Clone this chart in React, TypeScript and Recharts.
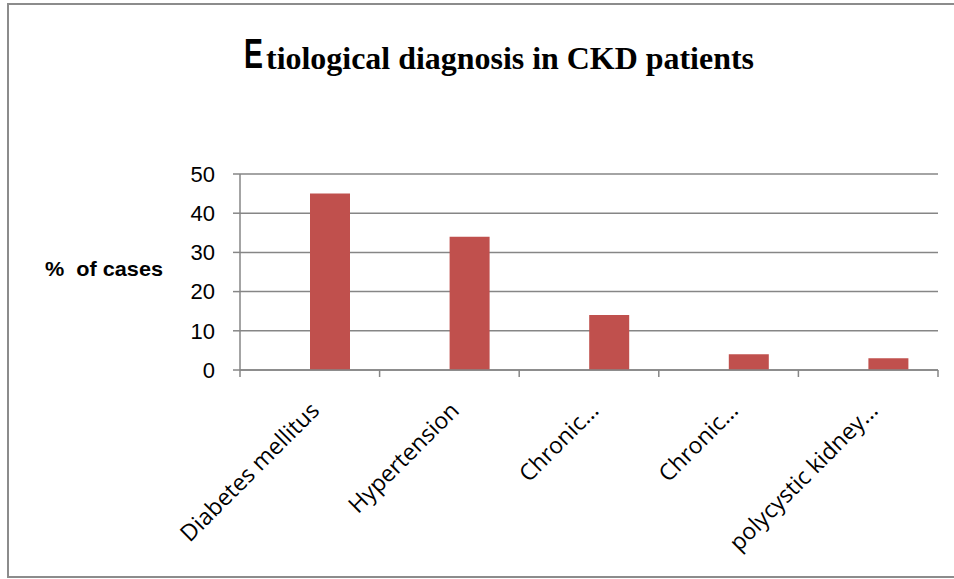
import { BarChart, Bar, XAxis, YAxis, CartesianGrid } from 'recharts';

const categories = ['Diabetes mellitus', 'Hypertension', 'Chronic...', 'Chronic...', 'polycystic kidney...'];
const casesPct = [45, 34, 14, 4, 3];
// the source sheet had an empty first series, which pushes the bars right of centre
const blankSeries = [null, null, null, null, null];
const yTicks = [0, 10, 20, 30, 40, 50];

const W = 954;
const H = 579;
const AXIS = '#868686';
const BAR = '#C0504D';
const SANS = "'Liberation Sans', Arial, sans-serif";

const data = categories.map((c, i) => ({
  category: c,
  blank: blankSeries[i],
  cases: casesPct[i],
}));

function CategoryTick(props: any) {
  const { x, y, payload, index, visibleTicksCount } = props;
  const half = payload && payload.offset ? payload.offset : 70;
  const last = index === (visibleTicksCount ?? categories.length) - 1;
  const tx = x + 11;
  const ty = y + 42;
  return (
    <g>
      <line x1={x - half} y1={y} x2={x - half} y2={y + 7} stroke={AXIS} strokeWidth={1.5} />
      {last && <line x1={x + half} y1={y} x2={x + half} y2={y + 7} stroke={AXIS} strokeWidth={1.5} />}
      <text
        x={tx}
        y={ty}
        transform={`rotate(-45, ${tx}, ${ty})`}
        textAnchor="end"
        fontSize={23}
        fontFamily="'Open Sans', sans-serif"
        fill="#000"
      >
        {payload.value}
      </text>
    </g>
  );
}

export default function App() {
  return (
    <div style={{ position: 'absolute', left: 0, top: 0, width: W, height: H, background: '#fff', fontFamily: SANS }}>
      <BarChart
        width={W}
        height={H}
        data={data}
        margin={{ top: 174, right: 16, bottom: 0, left: 0 }}
        barGap={0}
        barSize={40}
      >
        <CartesianGrid vertical={false} stroke={AXIS} strokeWidth={1.5} />
        <XAxis
          dataKey="category"
          height={209}
          interval={0}
          axisLine={{ stroke: AXIS, strokeWidth: 1.5 }}
          tickLine={false}
          tickSize={0}
          tickMargin={0}
          tick={<CategoryTick />}
        />
        <YAxis
          width={240}
          domain={[0, 50]}
          ticks={yTicks}
          interval={0}
          axisLine={{ stroke: AXIS, strokeWidth: 1.5 }}
          tickLine={{ stroke: AXIS, strokeWidth: 1.5 }}
          tickSize={7}
          tickMargin={18}
          tick={{ fontSize: 22, fill: '#000', fontFamily: SANS }}
        />
        <Bar dataKey="blank" fill={BAR} isAnimationActive={false} />
        <Bar dataKey="cases" fill={BAR} isAnimationActive={false} />
      </BarChart>

      <svg width={W} height={H} style={{ position: 'absolute', left: 0, top: 0, pointerEvents: 'none' }}>
        <rect x={8} y={4} width={W} height={573} fill="none" stroke="#8c8c8c" strokeWidth={2} />
        {/* big narrow initial, squeezed like the original */}
        <text
          transform="translate(244, 68) scale(0.66, 1)"
          x={0}
          y={0}
          fontSize={43}
          fontWeight="bold"
          fontFamily={SANS}
          fill="#000"
        >
          E
        </text>
        <text
          x={266}
          y={69}
          fontSize={32}
          fontWeight="bold"
          fontFamily="'Liberation Serif', 'Times New Roman', serif"
          fill="#000"
          textLength={488}
          lengthAdjust="spacingAndGlyphs"
        >
          tiological diagnosis in CKD patients
        </text>
        <text
          x={45}
          y={276}
          fontSize={21}
          fontWeight="bold"
          fontFamily={SANS}
          fill="#000"
          textLength={118}
          lengthAdjust="spacingAndGlyphs"
        >
          {'%\u00a0\u00a0of cases'}
        </text>
      </svg>
    </div>
  );
}
